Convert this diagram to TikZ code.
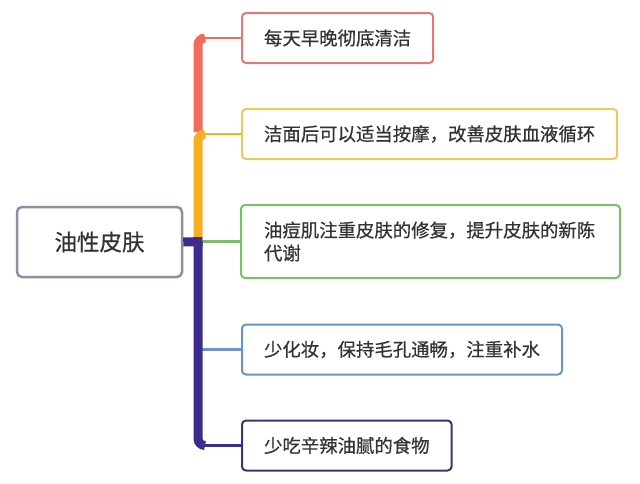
\documentclass[tikz,border=0pt]{standalone}
\usepackage{fontspec}
\setmainfont[FakeBold=0.6]{Noto Sans CJK SC}
\definecolor{cred}{HTML}{F26B5B}
\definecolor{credb}{HTML}{DC7B7B}
\definecolor{corange}{HTML}{F7AE22}
\definecolor{cyellowb}{HTML}{EBC95C}
\definecolor{cgreen}{HTML}{7CBF6B}
\definecolor{cblue}{HTML}{6B93CC}
\definecolor{cpurple}{HTML}{3B2C8E}
\definecolor{cpurpleb}{HTML}{3C346E}
\definecolor{cgray}{HTML}{8B8F9F}
\definecolor{ctext}{HTML}{333333}
\tikzset{
  leaf/.style={draw, line width=2pt, rounded corners=4pt, fill=white, text=ctext,
    inner xsep=22pt, inner ysep=0pt, minimum height=50pt, anchor=west, align=left,
    font=\fontsize{18.4}{23}\selectfont},
  rootbox/.style={draw=cgray, line width=2.5pt, rounded corners=5pt, fill=white, text=ctext,
    minimum width=165pt, minimum height=70pt, font=\fontsize{22.5}{26}\selectfont},
  trunk/.style={line width=9pt, rounded corners=7pt},
  branch/.style={line width=2.5pt}
}
\begin{document}
\begin{tikzpicture}[x=1pt,y=-1pt]
\useasboundingbox[fill=white] (0,0) rectangle (640,483);
\node[rootbox] (root) at (99.5,242) {油性皮肤};
\node[leaf, draw=credb] (b1) at (241,38) {每天早晚彻底清洁};
\node[leaf, draw=cyellowb] (b2) at (241,134) {洁面后可以适当按摩，改善皮肤血液循环};
\node[leaf, draw=cgreen, minimum height=73pt, text width=333pt, inner xsep=23pt] (b3) at (240,241.5) {油痘肌注重皮肤的修复，提升皮肤的新陈\\代谢};
\node[leaf, draw=cblue] (b4) at (241,349.5) {少化妆，保持毛孔通畅，注重补水};
\node[leaf, draw=cpurpleb] (b5) at (241,445.5) {少吃辛辣油腻的食物};
\coordinate (j1) at (198,38);
\coordinate (j2) at (198,134);
\coordinate (j3) at (198,241.5);
\coordinate (j4) at (198,349.5);
\coordinate (j5) at (198,445.5);
% branches
\draw[branch, cred] (j1) -- (b1.west);
\draw[branch, corange] (j2) -- (b2.west);
\draw[branch, cgreen] (j3) -- (b3.west);
\draw[branch, cblue] (j4) -- (b4.west);
\draw[branch, cpurple] (j5) -- (b5.west);
% trunk
\draw[trunk, cred] ([xshift=7pt]j1) -- (j1) -- ([yshift=2pt]j2);
\draw[trunk, corange] ([xshift=7pt]j2) -- (j2) -- ([yshift=1pt]j3);
\draw[trunk, cpurple, rounded corners=0pt] (root.east) -- ([xshift=4.5pt]j3);
\draw[trunk, cpurple] (j3) -- (j5) -- ([xshift=7pt]j5);
\end{tikzpicture}
\end{document}
